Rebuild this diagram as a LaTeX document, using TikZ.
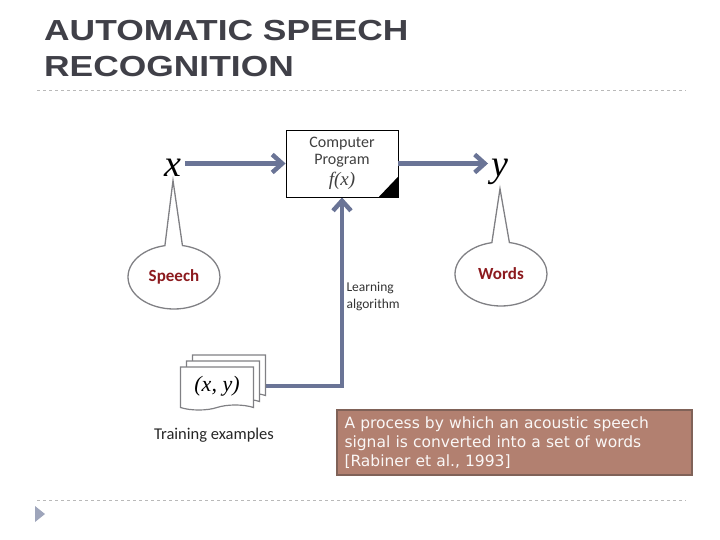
\documentclass[tikz,border=0pt]{standalone}
\usepackage{fontspec}
\setmainfont{Carlito}
\newfontfamily\titlefont[FakeStretch=1.22]{Liberation Sans}
\newfontfamily\serifit{Liberation Serif}
\newfontfamily\notefont{DejaVu Sans}
\usetikzlibrary{shapes.geometric, shapes.callouts, shapes.symbols, arrows.meta, positioning, backgrounds}
\definecolor{flowblue}{RGB}{106,116,150}
\definecolor{titlegray}{RGB}{64,64,72}
\definecolor{rulegray}{RGB}{185,185,185}
\definecolor{notebrown}{RGB}{178,128,112}
\definecolor{noteedge}{RGB}{128,98,88}
\definecolor{speechred}{RGB}{140,26,30}
\definecolor{bubblegray}{RGB}{128,128,132}
\tikzset{
  heading/.style={anchor=base west, text=titlegray, inner sep=0pt, font=\titlefont\bfseries\fontsize{29}{29}\selectfont},
  bubble/.style={ellipse callout, draw=bubblegray, line width=1.3pt, minimum width=92pt, minimum height=64pt, callout pointer arc=22, text=speechred, font=\bfseries\fontsize{17}{17}\selectfont},
  program/.style={rectangle, draw=black, line width=0.8pt, minimum width=112pt, minimum height=67pt, align=center, text=black!75, font=\fontsize{16}{17}\selectfont},
  page/.style={tape, tape bend top=none, draw=bubblegray, line width=1.2pt, fill=white, minimum width=73pt, minimum height=43pt},
  var/.style={anchor=base, font=\serifit\itshape\fontsize{38}{38}\selectfont},
  arrow/.style={line width=4.5pt, draw=flowblue, -{Straight Barb[length=10pt, width=18pt]}},
  divider/.style={rulegray, dashed, line width=0.8pt}
}

\begin{document}
\begin{tikzpicture}[x=1pt, y=-1pt]
  \useasboundingbox (0,0) rectangle (720,540);

  \node (title1) [heading] at (44,41) {AUTOMATIC SPEECH};
  \node (title2) [heading] at (44,77) {RECOGNITION};
  \draw [divider] (37,90) -- (686,90);
  \draw [divider] (37,500) -- (686,500);
  \fill [flowblue!65] (35,506) -- (45,514) -- (35,522) -- cycle;

  \node (prog) [program] at (342,163.5) {Computer\\Program\\[4pt]{\serifit\itshape\fontsize{19}{19}\selectfont f(x)}};
  \fill (prog.south east) -- ++(-20,0) -- ++(20,-21) -- cycle;
  \node (xin) [var] at (173,177) {x};
  \node (yout) [var] at (500,177) {y};

  \node (speech) [bubble, callout absolute pointer={(xin.south)}] at (174,277) {Speech};
  \node (words) [bubble, callout absolute pointer={(yout.south)}] at (501,274) {Words};

  \node (back) [page] at (229,374) {};
  \node (mid) [page] at (223,380) {};
  \node (train) [page, font=\serifit\itshape\fontsize{22}{22}\selectfont] at (217,386) {(x, y)};
  \node (trainlabel) [font=\fontsize{16.5}{16.5}\selectfont, text=black!85] at (214,435) {Training examples};
  \node (learn) [anchor=north west, align=left, text=black!80, font=\fontsize{13.5}{17}\selectfont] at (343,279) {Learning\\algorithm};

  \node (def) [draw=noteedge, line width=1.2pt, fill=notebrown, text=white!94!notebrown, minimum width=355pt, minimum height=65pt, text width=340pt, align=left, font=\notefont\fontsize{15.5}{19}\selectfont] at (514.5,442.5) {A process by which an acoustic speech\\signal is converted into a set of words\\{}[Rabiner et al., 1993]};

  \draw [arrow] (xin.east |- prog.west) -- (prog.west);
  \draw [arrow] (prog.east) -- (prog.east -| yout.west);
  \begin{scope}[on background layer]
    \draw [arrow] (train.east) -| (prog.south);
  \end{scope}

\end{tikzpicture}
\end{document}
